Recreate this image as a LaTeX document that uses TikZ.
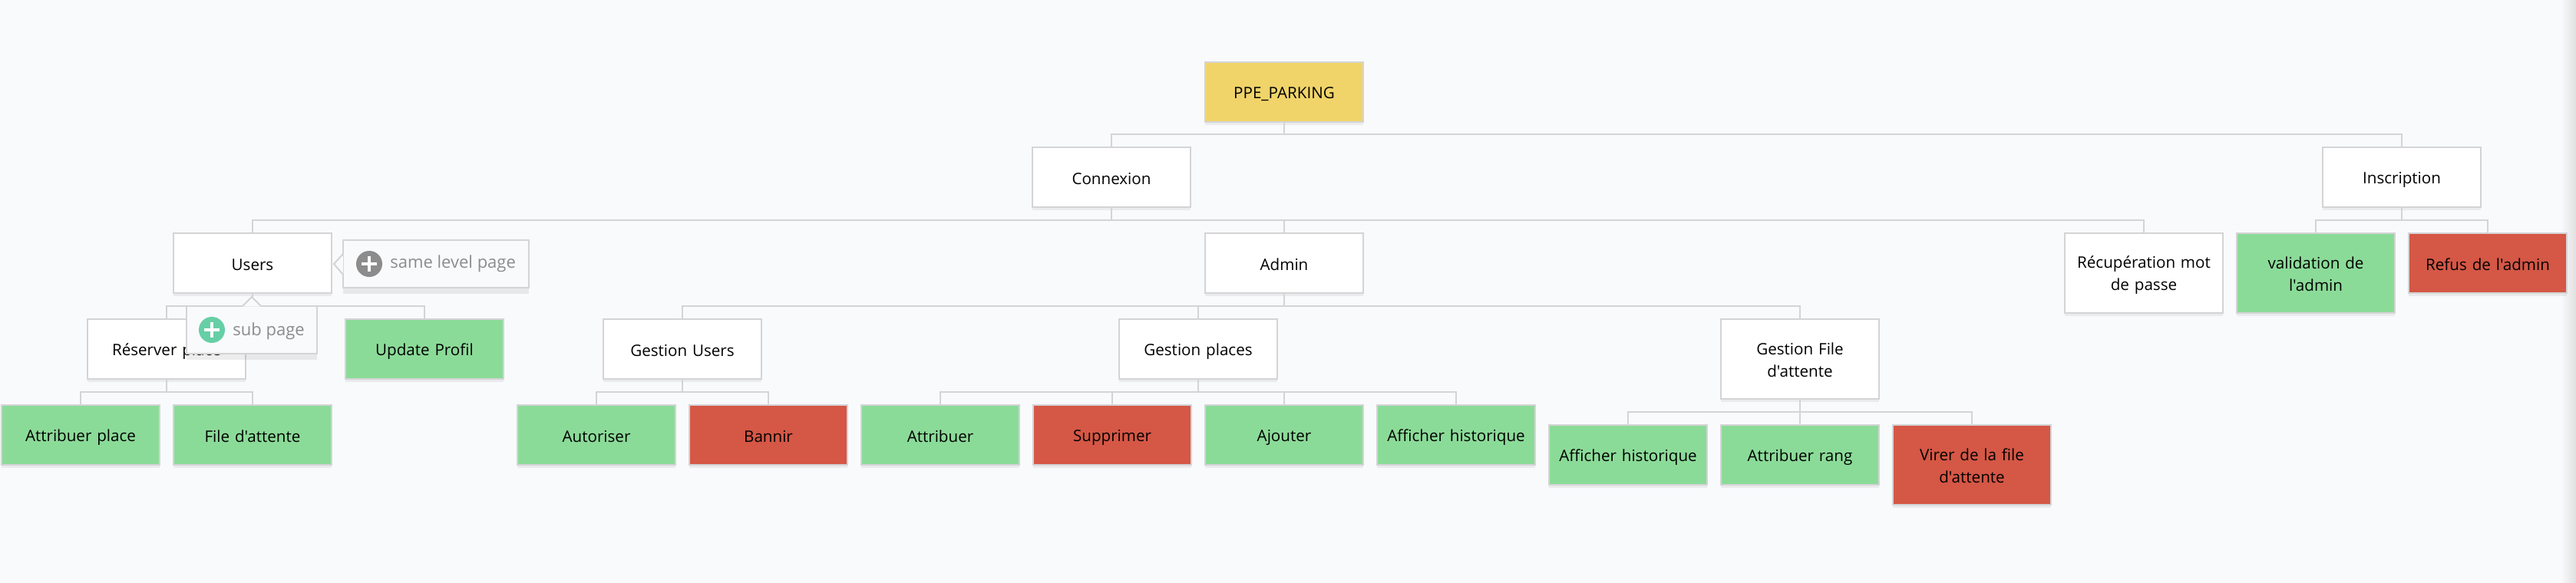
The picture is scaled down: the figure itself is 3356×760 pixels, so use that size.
\documentclass[tikz,border=0pt]{standalone}
\usepackage{fontspec}
\newfontfamily\pagefont{Open Sans}
\usetikzlibrary{shadows}
\definecolor{pagebg}{HTML}{F9FAFC}
\definecolor{pageline}{HTML}{D4D4D6}
\definecolor{pagegreen}{HTML}{8BDB98}
\definecolor{pagered}{HTML}{D55745}
\definecolor{pageyellow}{HTML}{F0D469}
\definecolor{hintgrey}{HTML}{8C8C8C}
\definecolor{hintgreen}{HTML}{66CFA5}
\begin{document}
\begin{tikzpicture}[x=0.5pt,y=-0.5pt]
        \tikzstyle{every node}=[inner sep=0pt,font=\pagefont\fontsize{10.3}{14.5}\selectfont]
        \tikzstyle{page}=[draw=pageline,line width=1pt,fill=white,minimum width=103pt,minimum height=39pt,text width=92pt,align=center,execute at begin node={\rule{0pt}{10.5pt}},execute at end node={\rule[-1.5pt]{0pt}{1.5pt}},drop shadow={shadow xshift=0pt,shadow yshift=-2pt,opacity=0.12}]
        \tikzstyle{tall}=[page,minimum height=52pt]
        \tikzstyle{ok}=[fill=pagegreen]
        \tikzstyle{ko}=[fill=pagered]
        \tikzstyle{link}=[draw=pageline,line width=1pt]
        \tikzstyle{hint}=[draw=pageline,line width=1pt,fill=pagebg,drop shadow={shadow xshift=0pt,shadow yshift=-4pt,opacity=0.14}]
        \tikzstyle{hinttext}=[text=black!45,font=\pagefont\fontsize{11}{14.5}\selectfont]
        \tikzstyle{addbtn}=[circle,minimum size=17pt]
        \tikzstyle{plusbar}=[white,line width=2pt]
        \fill[pagebg] (0,0) rectangle (3356,760);
        \shade[left color=pagebg,right color=black!12] (3336,0) rectangle (3356,760);
        \useasboundingbox (0,0) rectangle (3356,760);
        % level 0 and 1
        \node[page,fill=pageyellow] (ppe) at (1673,120) {PPE\_PARKING};
        \node[page] (connexion) at (1448,231) {Connexion};
        \node[page] (inscription) at (3129,231) {Inscription};
        % level 2
        \node[page] (users) at (329,343) {Users};
        \node[page] (admin) at (1673,343) {Admin};
        \node[tall] (recup) at (2793,356) {Récupération mot\\de passe};
        \node[tall,ok] (validation) at (3017,356) {validation de\\l'admin};
        \node[page,ko] (refus) at (3241,343) {Refus de l'admin};
        % level 3
        \node[page] (reserver) at (217,455) {Réserver place};
        \node[page,ok] (profil) at (553,455) {Update Profil};
        \node[page] (gusers) at (889,455) {Gestion Users};
        \node[page] (gplaces) at (1561,455) {Gestion places};
        \node[tall] (gfile) at (2345,468) {Gestion File\\d'attente};
        % level 4
        \node[page,ok] (attplace) at (105,567) {Attribuer place};
        \node[page,ok] (fileatt) at (329,567) {File d'attente};
        \node[page,ok] (autoriser) at (777,567) {Autoriser};
        \node[page,ko] (bannir) at (1001,567) {Bannir};
        \node[page,ok] (attribuer) at (1225,567) {Attribuer};
        \node[page,ko] (supprimer) at (1449,567) {Supprimer};
        \node[page,ok] (ajouter) at (1673,567) {Ajouter};
        \node[page,ok] (affhist) at (1897,567) {Afficher historique};
        \node[page,ok] (affhistb) at (2121,593) {Afficher historique};
        \node[page,ok] (attrang) at (2345,593) {Attribuer rang};
        \node[tall,ko] (virer) at (2569,606) {Virer de la file\\d'attente};
        % bus lines
        \foreach \from/\to in {ppe/connexion,ppe/inscription,connexion/users,connexion/admin,connexion/recup,inscription/validation,inscription/refus,users/reserver,users/profil,admin/gusers,admin/gplaces,admin/gfile,reserver/attplace,reserver/fileatt,gusers/autoriser,gusers/bannir,gplaces/attribuer,gplaces/supprimer,gplaces/ajouter,gplaces/affhist,gfile/affhistb,gfile/attrang,gfile/virer}
            \draw[link] (\from.south) |- ([yshift=8pt]\to.north) -- (\to.north);
        % hover hints on users
        \node[hint,minimum width=121pt,minimum height=31pt] (samelevel) at (568,344) {};
        \fill[pagebg] (447,331) -- (435,344) -- (447,358) -- cycle;
        \draw[link] (447,331) -- (435,344) -- (447,358);
        \node[addbtn,fill=hintgrey] (addsame) at (481,344) {};
        \draw[plusbar] ([xshift=-5pt]addsame.center) -- ([xshift=5pt]addsame.center);
        \draw[plusbar] ([yshift=-5pt]addsame.center) -- ([yshift=5pt]addsame.center);
        \node[hinttext,anchor=west] (sametext) at (508,344) {same level page};
        \node[hint,minimum width=85pt,minimum height=31pt] (subpage) at (328,430) {};
        \fill[pagebg] (316,399.5) -- (328,387) -- (340,399.5) -- cycle;
        \draw[link] (316,399) -- (328,387) -- (340,399);
        \node[addbtn,fill=hintgreen] (addsub) at (276,430) {};
        \draw[plusbar] ([xshift=-5pt]addsub.center) -- ([xshift=5pt]addsub.center);
        \draw[plusbar] ([yshift=-5pt]addsub.center) -- ([yshift=5pt]addsub.center);
        \node[hinttext,anchor=west] (subtext) at (303,432) {sub page};
\end{tikzpicture}
\end{document}
